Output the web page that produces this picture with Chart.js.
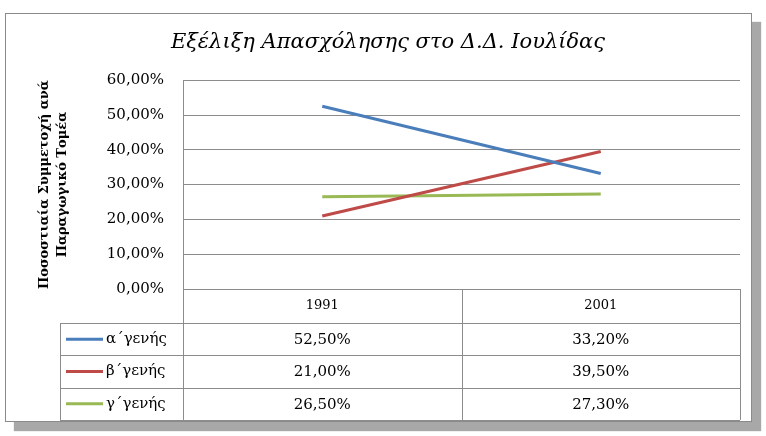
<!DOCTYPE html>
<html>
<head>
<meta charset="utf-8">
<script src="https://cdn.jsdelivr.net/npm/chart.js@4.4.1/dist/chart.umd.min.js"></script>
<style>
  html, body { margin: 0; padding: 0; background: #fff; }
  #frame {
    position: absolute; left: 5px; top: 13px;
    width: 745px; height: 407px;
    border: 1px solid #8a8a8a;
    background: #fff;
    box-shadow: 9px 9px 1px #a8a8a8;
  }
  canvas { display: block; }
</style>
</head>
<body>
<div id="frame"><canvas id="chart" width="745" height="407"></canvas></div>
<script>
// data
const years = ["1991", "2001"];
const seriesNames = ["α΄γενής", "β΄γενής", "γ΄γενής"];
const alpha = [52.5, 33.2];
const beta = [21.0, 39.5];
const gamma = [26.5, 27.3];
const colors = ["#4a7ebb", "#be4b48", "#98b954"];

const fmt = v => v.toFixed(2).replace(".", ",") + "%";
const SERIF = "'DejaVu Serif', 'Liberation Serif', serif";

// draws the data table under the plot, using the x scale for the columns
const dataTable = {
  id: "dataTable",
  afterDraw(chart) {
    const c = chart.ctx;
    const xs = chart.scales.x;
    const a = chart.chartArea;
    const headH = 34, rowH = 32.3;
    const legLeft = a.left - 123;
    const mid = (xs.getPixelForValue(0) + xs.getPixelForValue(1)) / 2;
    const vLines = [a.left, mid, a.right];
    const bottom = a.bottom + headH + rowH * 3;

    c.save();
    c.strokeStyle = "#8c8c8c";
    c.lineWidth = 1;
    c.beginPath();
    vLines.forEach(x => { c.moveTo(Math.round(x) + 0.5, a.bottom); c.lineTo(Math.round(x) + 0.5, bottom); });
    c.moveTo(Math.round(legLeft) + 0.5, a.bottom + headH);
    c.lineTo(Math.round(legLeft) + 0.5, bottom);
    for (let r = 0; r <= 3; r++) {
      const y = Math.round(a.bottom + headH + rowH * r) + 0.5;
      c.moveTo(legLeft, y); c.lineTo(a.right, y);
    }
    c.stroke();

    c.fillStyle = "#000";
    c.textAlign = "center";
    c.textBaseline = "middle";
    c.font = "13px " + SERIF;
    years.forEach((yr, i) => c.fillText(yr, xs.getPixelForValue(i), a.bottom + headH / 2));

    chart.data.datasets.forEach((ds, r) => {
      const cy = a.bottom + headH + rowH * r + rowH / 2;
      c.font = "15px " + SERIF;
      c.textAlign = "center";
      ds.data.forEach((v, i) => c.fillText(fmt(v), xs.getPixelForValue(i), cy + 1));
      // legend key
      c.strokeStyle = ds.borderColor;
      c.lineWidth = 3;
      c.beginPath();
      c.moveTo(legLeft + 6, cy); c.lineTo(legLeft + 43, cy);
      c.stroke();
      c.textAlign = "left";
      c.fillText(ds.label, legLeft + 46, cy);
    });
    c.restore();
  }
};

new Chart(document.getElementById("chart"), {
  type: "line",
  data: {
    labels: years,
    datasets: [
      { label: seriesNames[0], data: alpha, borderColor: colors[0] },
      { label: seriesNames[1], data: beta, borderColor: colors[1] },
      { label: seriesNames[2], data: gamma, borderColor: colors[2] }
    ].map(d => ({ ...d, borderWidth: 3, pointRadius: 0, tension: 0, fill: false }))
  },
  options: {
    responsive: false,
    animation: false,
    devicePixelRatio: 1,
    layout: { padding: { left: 30, right: 11, top: 0, bottom: 132 } },
    plugins: {
      legend: { display: false },
      tooltip: { enabled: false },
      title: {
        display: true,
        text: "Εξέλιξη Απασχόλησης στο Δ.Δ. Ιουλίδας",
        color: "#000",
        font: { family: SERIF, size: 21, style: "italic", weight: "normal", lineHeight: 1.2 },
        padding: { top: 16, bottom: 25 }
      }
    },
    scales: {
      x: { type: "category", offset: true, display: false },
      y: {
        min: 0, max: 60,
        ticks: {
          stepSize: 10, color: "#000", padding: 19,
          font: { family: SERIF, size: 15 },
          callback: v => fmt(v)
        },
        grid: { color: "#8c8c8c", tickLength: 0 },
        border: { display: true, color: "#8c8c8c" },
        title: {
          display: true,
          text: ["Ποσοστιαία Συμμετοχή ανά", "Παραγωγικό Τομέα"],
          color: "#000",
          font: { family: SERIF, size: 13, weight: "bold", lineHeight: 1.35 },
          padding: 0
        },
        afterFit(scale) { scale.width = 147; }
      }
    }
  },
  plugins: [dataTable]
});
</script>
</body>
</html>
